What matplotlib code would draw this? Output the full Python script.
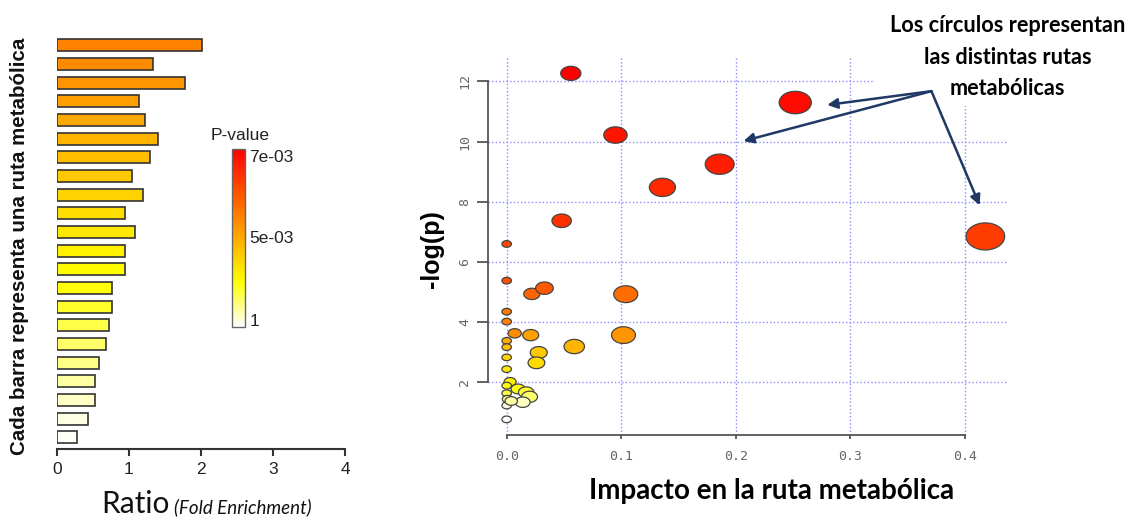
import numpy as np
import matplotlib
matplotlib.use("Agg")
import matplotlib.pyplot as plt
from matplotlib.colors import LinearSegmentedColormap, Normalize
from matplotlib.cm import ScalarMappable
from matplotlib.markers import MarkerStyle
from matplotlib.patches import Rectangle
from matplotlib.path import Path

# Enrichment bars, listed top to bottom
ratio = [2.02, 1.34, 1.78, 1.14, 1.22, 1.41, 1.29, 1.04, 1.19, 0.94, 1.08,
         0.94, 0.94, 0.77, 0.77, 0.73, 0.69, 0.59, 0.53, 0.53, 0.43, 0.28]
bar_shade = [0.62, 0.59, 0.56, 0.53, 0.50, 0.47, 0.44, 0.41, 0.38, 0.35, 0.32,
             0.29, 0.26, 0.24, 0.21, 0.18, 0.15, 0.12, 0.09, 0.06, 0.03, 0.01]

# Pathway topology: impact vs -log(p)
impact = [0.056, 0.095, 0.252, 0.186, 0.136, 0.418, 0.048, 0.000, 0.000, 0.022,
          0.033, 0.104, 0.102, 0.059, 0.028, 0.026, 0.021, 0.007, 0.000, 0.000,
          0.000, 0.000, 0.000, 0.000, 0.003, 0.000, 0.010, 0.000, 0.017, 0.020,
          0.001, 0.000, 0.014, 0.004, 0.000]
neglogp = [12.27, 10.22, 11.30, 9.25, 8.48, 6.85, 7.37, 6.60, 5.38, 4.94,
           5.13, 4.93, 3.57, 3.19, 2.99, 2.65, 3.57, 3.63, 4.35, 4.02,
           3.38, 3.17, 2.83, 2.44, 2.02, 1.89, 1.78, 1.64, 1.67, 1.52,
           1.44, 1.23, 1.34, 1.38, 0.77]

cbar_ticks = [0.04, 0.505, 0.96]
cbar_labels = ["1", "5e-03", "7e-03"]

heat = LinearSegmentedColormap.from_list(
    "heat", [(0.0, "#FFFFFF"), (0.25, "#FFFF00"), (1.0, "#FF0000")])

W, H = 1129, 524
fig = plt.figure(figsize=(W / 100, H / 100), dpi=100)
fig.patch.set_facecolor("white")


def frac(x0, y0, x1, y1):
    """pixel box (top-left origin) -> figure fraction rect"""
    return [x0 / W, 1 - y1 / H, (x1 - x0) / W, (y1 - y0) / H]


# ---- left: bar chart ----
ax1 = fig.add_axes(frac(56.7, 36, 345.3, 449))
n = len(ratio)
ypos = np.arange(n)[::-1]
ax1.barh(ypos, ratio, height=0.64, color=heat(bar_shade),
         edgecolor="#333333", linewidth=1.2)
ax1.set_xlim(0, 4)
ax1.set_ylim(-0.62, n - 0.5)
for s in ["top", "right", "left"]:
    ax1.spines[s].set_visible(False)
ax1.spines["bottom"].set_color("#333333")
ax1.spines["bottom"].set_linewidth(1.5)
ax1.set_yticks([])
ax1.set_xticks([0, 1, 2, 3, 4])
ax1.tick_params(axis="x", length=5, width=1.5, color="#333333", pad=4,
                labelsize=12.5, labelcolor="#222222")
for t in ax1.get_xticklabels():
    t.set_family("Liberation Sans")

fig.text(20 / W, 1 - 246 / H, "Cada barra representa una ruta metabólica",
         rotation=90, ha="center", va="center", fontsize=14.8,
         fontweight="bold", family="Liberation Sans", color="#111111")
fig.text(101 / W, 1 - 513 / H, "Ratio", ha="left", va="baseline",
         fontsize=21.5, family="Lato", color="#111111")
fig.text(174 / W, 1 - 513 / H, "(Fold Enrichment)", ha="left", va="baseline",
         fontsize=13.5, family="Lato", style="italic", color="#111111")

# colour key
cax = fig.add_axes(frac(231.7, 149.3, 245, 326.7))
cb = fig.colorbar(ScalarMappable(norm=Normalize(0, 1), cmap=heat), cax=cax)
cb.set_ticks(cbar_ticks)
cb.set_ticklabels(cbar_labels)
cb.outline.set_edgecolor("#666666")
cb.outline.set_linewidth(1)
cax.tick_params(length=0, pad=3, labelsize=12.5, labelcolor="#222222")
for t in cax.get_yticklabels():
    t.set_family("Liberation Sans")
fig.text(240 / W, 1 - 136 / H, "P-value", ha="center", va="center",
         fontsize=12.5, family="Liberation Sans", color="#222222")

# ---- right: pathway bubble plot ----
ax2 = fig.add_axes(frac(488, 58, 1007, 435))
ax2.set_xlim(-0.0163, 0.4369)
ax2.set_ylim(0.25, 12.78)

theta = np.linspace(0, 2 * np.pi, 80)
oval = MarkerStyle(Path(np.column_stack([np.cos(theta), 0.7 * np.sin(theta)]),
                        closed=True))

x = np.array(impact)
y = np.array(neglogp)
width_px = 9.5 + 45 * np.sqrt(x)
sizes = (width_px * 0.72) ** 2
rank = np.argsort(np.argsort(-y))
shade = 1 - rank / (len(y) - 1)
ax2.scatter(x, y, s=sizes, c=heat(shade), marker=oval,
            edgecolors="#444444", linewidths=0.9, zorder=3, clip_on=False)

ax2.set_xticks([0.0, 0.1, 0.2, 0.3, 0.4])
ax2.set_yticks([2, 4, 6, 8, 10, 12])
ax2.set_xticklabels(["0.0", "0.1", "0.2", "0.3", "0.4"])
ax2.set_yticklabels(["2", "4", "6", "8", "10", "12"], rotation=90, va="center")
ax2.grid(True, color="#8C8CFF", linestyle=(0, (1, 1.6)), linewidth=1)
ax2.set_axisbelow(True)
for s in ["top", "right"]:
    ax2.spines[s].set_visible(False)
for s in ["left", "bottom"]:
    ax2.spines[s].set_color("#555555")
    ax2.spines[s].set_linewidth(1.3)
ax2.spines["left"].set_bounds(2, 12)
ax2.spines["bottom"].set_bounds(0, 0.4)
ax2.tick_params(axis="y", length=8, width=1.3, color="#555555", pad=4)
ax2.tick_params(axis="x", length=3, width=1.3, color="#555555", pad=8)
ax2.tick_params(labelsize=9.5, labelcolor="#666666")
for t in ax2.get_xticklabels() + ax2.get_yticklabels():
    t.set_family("DejaVu Sans Mono")

fig.text(431.7 / W, 1 - 249 / H, "-log(p)", rotation=90, ha="center",
         va="center", fontsize=18, fontweight="bold", family="Liberation Sans")
fig.text(771.5 / W, 1 - 491 / H, "Impacto en la ruta metabólica",
         ha="center", va="center", fontsize=20, fontweight="bold", family="Lato")

# callout: white panel behind the note, then note and arrows
ax2.add_patch(Rectangle((0.3214, 11.2), 0.5, 5, facecolor="white",
                        edgecolor="none", zorder=4, clip_on=False))
ax2.text(0.4375, 12.81, "Los círculos representan\nlas distintas rutas\nmetabólicas",
         ha="center", va="center", fontsize=15.6, fontweight="bold",
         family="Lato", linespacing=1.6, zorder=5, clip_on=False)
arrow_kw = dict(arrowstyle="-|>", color="#1F3864", lw=1.8,
                mutation_scale=15, shrinkA=0, shrinkB=0)
for tx, ty in [(0.2799, 11.22), (0.2068, 10.02), (0.4130, 7.885)]:
    ax2.annotate("", xy=(tx, ty), xytext=(0.3709, 11.678),
                 arrowprops=arrow_kw, zorder=6, annotation_clip=False)

fig.savefig("out.png", dpi=100)
